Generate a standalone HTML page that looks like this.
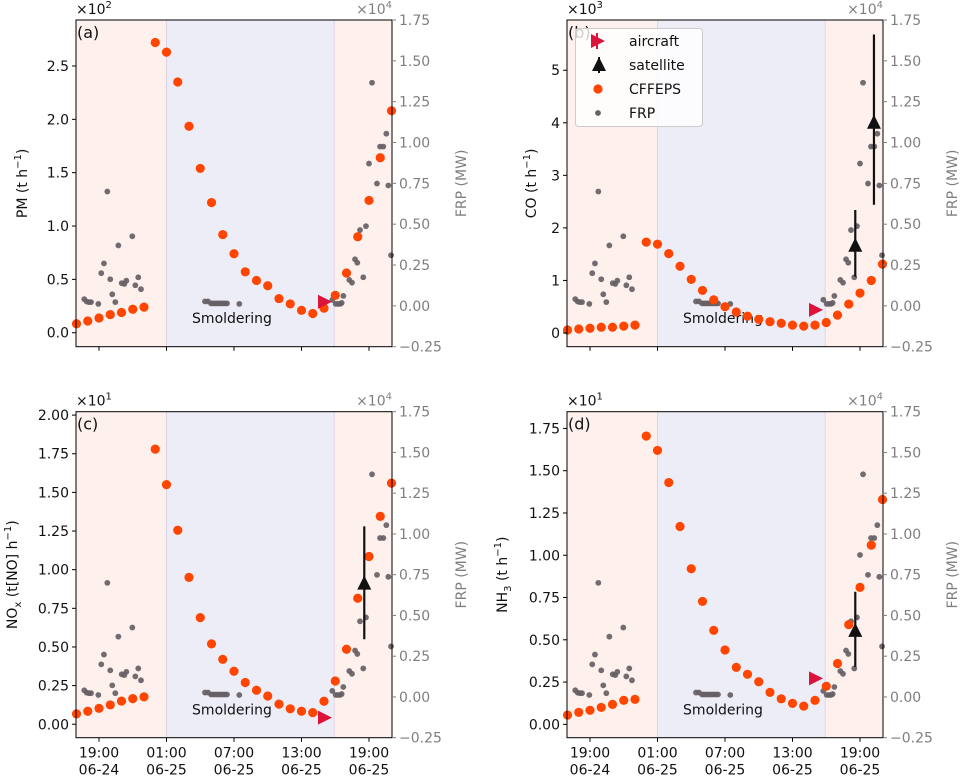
<!DOCTYPE html>
<html><head><meta charset="utf-8">
<style>
html,body{margin:0;padding:0;background:#fff;}
svg{display:block;font-family:"DejaVu Sans","Liberation Sans",sans-serif;}
</style></head>
<body>
<svg id="chart" width="964" height="777" viewBox="0 0 964 777" xmlns="http://www.w3.org/2000/svg"></svg>
<script>
// ---- data ----
const hours = [17,18,19,20,21,22,23,24,25,26,27,28,29,30,31,32,33,34,35,36,37,38,39,40,41,42,43,44,45];
const cffepsPM  = [0.084,0.11,0.138,0.17,0.19,0.22,0.24,2.72,2.63,2.35,1.935,1.54,1.22,0.92,0.74,0.57,0.49,0.44,0.32,0.27,0.21,0.18,0.23,0.35,0.56,0.90,1.24,1.64,2.08];
const cffepsCO  = [0.057,0.076,0.09,0.11,0.11,0.13,0.15,1.73,1.69,1.51,1.27,1.02,0.81,0.63,0.50,0.40,0.32,0.26,0.215,0.185,0.15,0.13,0.15,0.20,0.34,0.55,0.76,1.00,1.31];
const cffepsNOx = [0.067,0.084,0.103,0.125,0.15,0.166,0.177,1.78,1.55,1.255,0.95,0.69,0.52,0.42,0.343,0.27,0.22,0.183,0.13,0.10,0.084,0.075,0.149,0.28,0.485,0.815,1.085,1.345,1.56];
const cffepsNH3 = [0.055,0.071,0.083,0.10,0.118,0.142,0.148,1.705,1.62,1.43,1.17,0.92,0.727,0.556,0.44,0.337,0.296,0.252,0.189,0.151,0.124,0.108,0.142,0.225,0.36,0.59,0.81,1.06,1.33];
const frpHours = [17.69,17.91,18.11,18.29,18.94,19.20,19.44,19.74,20.0,20.18,20.45,20.72,21.02,21.25,21.43,21.96,22.23,22.49,22.73,
  28.42,28.69,28.96,29.13,29.31,29.49,29.67,29.84,30.02,30.2,30.38,31.47,
  39.74,40.04,40.24,40.42,40.57,40.72,41.25,41.49,41.76,41.96,42.2,42.49,42.73,43.0,43.27,43.71,43.98,44.27,44.54,44.72,44.96];
const frpValues = [0.041,0.026,0.023,0.023,0.012,0.20,0.26,0.70,0.163,0.071,0.023,0.37,0.139,0.134,0.154,0.426,0.126,0.175,0.102,
  0.027,0.027,0.015,0.015,0.015,0.015,0.015,0.015,0.015,0.015,0.015,0.012,
  0.037,0.012,0.012,0.012,0.018,0.061,0.159,0.142,0.285,0.264,0.464,0.175,0.488,0.871,1.366,0.749,0.975,0.975,1.054,0.737,0.31];
const aircraftHour = 39.0;
const aircraftValues = [0.29, 0.44, 0.043, 0.272];
const satHoursCO = [42.58, 44.24];
const satCO = [1.66, 4.0];
const satCOlo = [1.07, 2.44];
const satCOhi = [2.34, 5.68];
const satHoursNOx = [42.58]; const satNOx = [0.91]; const satNOxLo = [0.55]; const satNOxHi = [1.28];
const satHoursNH3 = [42.58]; const satNH3 = [0.553]; const satNH3Lo = [0.34]; const satNH3Hi = [0.784];
const xTickHours = [19,25,31,37,43];
const xTickTimes = ["19:00","01:00","07:00","13:00","19:00"];
const xTickDates = ["06-24","06-25","06-25","06-25","06-25"];
const rightTicks = [-0.25,0,0.25,0.5,0.75,1.0,1.25,1.5,1.75];

const NS = "http://www.w3.org/2000/svg";
const svg = document.getElementById('chart');
function mk(tag, attrs, parent){
  const e = document.createElementNS(NS, tag);
  for (const k in attrs) e.setAttribute(k, attrs[k]);
  (parent||svg).appendChild(e);
  return e;
}

const panels = [
  {id:'a', left:76, top:20, bottom:346.7, ymin:-0.131, ymax:2.931, ticks:[0,0.5,1,1.5,2,2.5], dec:1, mult:'2', data:cffepsPM, air:aircraftValues[0], sh:[], sv:[], sl:[], su:[], label:['PM (t h','−1',')'], lx:22, xlabels:false},
  {id:'b', left:567, top:20, bottom:346.7, ymin:-0.261, ymax:5.956, ticks:[0,1,2,3,4,5], dec:0, mult:'3', data:cffepsCO, air:aircraftValues[1], sh:satHoursCO, sv:satCO, sl:satCOlo, su:satCOhi, label:['CO (t h','−1',')'], lx:531, xlabels:false},
  {id:'c', left:76, top:411.7, bottom:737.7, ymin:-0.087, ymax:2.022, ticks:[0,0.25,0.5,0.75,1,1.25,1.5,1.75,2], dec:2, mult:'1', data:cffepsNOx, air:aircraftValues[2], sh:satHoursNOx, sv:satNOx, sl:satNOxLo, su:satNOxHi, label:['NO','x',' (t[NO] h','−1',')'], lx:12, xlabels:true},
  {id:'d', left:567, top:411.7, bottom:737.7, ymin:-0.079, ymax:1.849, ticks:[0,0.25,0.5,0.75,1,1.25,1.5,1.75], dec:2, mult:'1', data:cffepsNH3, air:aircraftValues[3], sh:satHoursNH3, sv:satNH3, sl:satNH3Lo, su:satNH3Hi, label:['NH','3',' (t h','−1',')'], lx:502, xlabels:true}
];
const W = 316;
const GREY = '#7f7f7f';

panels.forEach(p=>{
  const g = mk('g',{});
  
  
  const xs = h => p.left + 23 + (h-19)*11.25;
  const ys = v => p.bottom - (v-p.ymin)/(p.ymax-p.ymin)*(p.bottom-p.top);
  const yr = v => p.bottom - (v+0.25)/2.0*(p.bottom-p.top);
  const R = p.left+W;
  // shading
  const s1 = mk('rect',{x:p.left,y:p.top,width:xs(25)-p.left,height:p.bottom-p.top,fill:'#fdf0ed'},g);
   
  const s2 = mk('rect',{x:xs(25),y:p.top,width:xs(39.9)-xs(25),height:p.bottom-p.top,fill:'#ededf8'},g);
   
  const s3 = mk('rect',{x:xs(39.9),y:p.top,width:R-xs(39.9),height:p.bottom-p.top,fill:'#fdf0ed'},g);
   
  mk('line',{x1:xs(25),x2:xs(25),y1:p.top,y2:p.bottom,stroke:'#e0d4e4','stroke-width':1},g);
  mk('line',{x1:xs(39.9),x2:xs(39.9),y1:p.top,y2:p.bottom,stroke:'#e0d4e4','stroke-width':1},g);
  // smoldering text
  const st = mk('text',{x:232,y:0,'font-size':14,'text-anchor':'middle',fill:'#111'},g);
  st.setAttribute('x', p.left+156); st.setAttribute('y', p.top+303);
  st.textContent='Smoldering';
   
  // FRP dots
  frpHours.forEach((h,i)=>{
    const c = mk('circle',{cx:xs(h),cy:yr(frpValues[i]),r:2.9,fill:'#666064','fill-opacity':0.92},g);
     
  });
  // CFFEPS dots
  hours.forEach((h,i)=>{
    const c = mk('circle',{cx:xs(h),cy:ys(p.data[i]),r:4.6,fill:'#ff4500'},g);
     
  });
  // aircraft
  const ax = xs(aircraftHour), ay = ys(p.air);
  const at = mk('polygon',{points:`${ax-6},${ay-7} ${ax+8},${ay} ${ax-6},${ay+7}`,fill:'#dc143c'},g);
   
  // satellite
  p.sh.forEach((h,i)=>{
    const sx = xs(h);
    const el = mk('line',{x1:sx,x2:sx,y1:ys(p.su[i]),y2:ys(p.sl[i]),stroke:'#111','stroke-width':2.2},g);
     
    const sy = ys(p.sv[i]);
    const tr = mk('polygon',{points:`${sx-7},${sy+6} ${sx},${sy-8} ${sx+7},${sy+6}`,fill:'#111'},g);
     
  });
  // frame
  const fr = mk('rect',{x:p.left,y:p.top,width:W,height:p.bottom-p.top,fill:'none',stroke:'#000','stroke-width':1},g);
   
  // left ticks
  p.ticks.forEach(t=>{
    const y = ys(t);
    mk('line',{x1:p.left-4,x2:p.left,y1:y,y2:y,stroke:'#000'},g);
    const tx = mk('text',{x:p.left-7,y:y+5,'font-size':14,'text-anchor':'end',fill:'#111'},g);
    tx.textContent = t.toFixed(p.dec);
     
  });
  // right ticks
  rightTicks.forEach(t=>{
    const y = yr(t);
    mk('line',{x1:R,x2:R+4,y1:y,y2:y,stroke:GREY},g);
    const tx = mk('text',{x:R+7,y:y+5,'font-size':14,'text-anchor':'start',fill:GREY},g);
    tx.textContent = (t<0?'−':'')+Math.abs(t).toFixed(2);
     
  });
  // x ticks
  xTickHours.forEach((h,i)=>{
    const x = xs(h);
    mk('line',{x1:x,x2:x,y1:p.bottom,y2:p.bottom+4,stroke:'#000'},g);
    if (p.xlabels){
      const t1 = mk('text',{x:x,y:p.bottom+20,'font-size':14,'text-anchor':'middle',fill:'#111'},g);
      t1.textContent = xTickTimes[i];
       
      const t2 = mk('text',{x:x,y:p.bottom+37,'font-size':14,'text-anchor':'middle',fill:'#111'},g);
      t2.textContent = xTickDates[i];
       
    }
  });
  // multipliers
  const m1 = mk('text',{x:p.left,y:p.top-6,'font-size':14,fill:'#111'},g);
  m1.innerHTML = '×10<tspan dy="-6" font-size="10">'+p.mult+'</tspan>';
   
  const m2 = mk('text',{x:R,y:p.top-6,'font-size':14,'text-anchor':'end',fill:GREY},g);
  m2.innerHTML = '×10<tspan dy="-6" font-size="10">4</tspan>';
   
  // panel letter
  const pl = mk('text',{x:p.left+1,y:p.top+18,'font-size':16,fill:'#111'},g);
  pl.textContent = '('+p.id+')';
   
  // y label
  const cy = (p.top+p.bottom)/2;
  const yl = mk('text',{x:0,y:0,'font-size':14,'text-anchor':'middle',fill:'#111',transform:`translate(${p.lx+5},${cy}) rotate(-90)`},g);
  let html = '';
  if (p.label.length===3) html = p.label[0]+'<tspan dy="-6" font-size="10">'+p.label[1]+'</tspan><tspan dy="6">'+p.label[2]+'</tspan>';
  else html = p.label[0]+'<tspan dy="4" font-size="10">'+p.label[1]+'</tspan><tspan dy="-4">'+p.label[2]+'</tspan><tspan dy="-6" font-size="10">'+p.label[3]+'</tspan><tspan dy="6">'+p.label[4]+'</tspan>';
  yl.innerHTML = html;
   
  const rl = mk('text',{x:0,y:0,'font-size':14,'text-anchor':'middle',fill:GREY,transform:`translate(${R+74},${cy}) rotate(-90)`},g);
  rl.textContent = 'FRP (MW)';
   
});

// legend in panel b
const lg = mk('g',{});


mk('rect',{x:575.5,y:28.5,width:127,height:98,rx:3,fill:'#fff','fill-opacity':0.8,stroke:'#cccccc'},lg);
const ly = [41,65,89,113];
const names = ['aircraft','satellite','CFFEPS','FRP'];
mk('line',{x1:597,x2:597,y1:33,y2:49,stroke:'#dc143c','stroke-width':2},lg);
mk('polygon',{points:`591,34 605,41 591,48`,fill:'#dc143c'},lg);
mk('line',{x1:599,x2:599,y1:57,y2:73,stroke:'#111','stroke-width':2},lg);
mk('polygon',{points:`592,71 599,57 606,71`,fill:'#111'},lg);
mk('circle',{cx:598,cy:89,r:4.6,fill:'#ff4500'},lg);
mk('circle',{cx:598,cy:113,r:2.9,fill:'#666064'},lg);
names.forEach((n,i)=>{
  const t = mk('text',{x:629,y:ly[i]+5,'font-size':14,fill:'#111'},lg);
  t.textContent = n;
   
});
</script>
</body></html>
